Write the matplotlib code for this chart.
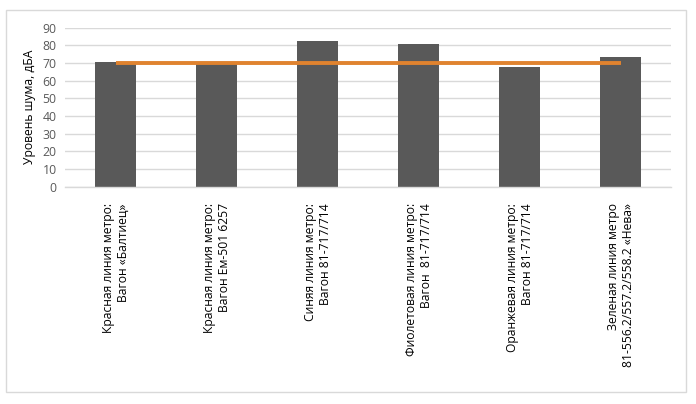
import numpy as np
import matplotlib.pyplot as plt
from matplotlib.patches import Rectangle

plt.rcParams['font.family'] = ['Open Sans', 'DejaVu Sans']

categories = [
    "Красная линия метро:\nВагон «Балтиец»",
    "Красная линия метро:\nВагон Ем-501 6257",
    "Синяя линия метро:\nВагон 81-717/714",
    "Фиолетовая линия метро:\nВагон  81-717/714",
    "Оранжевая линия метро:\nВагон 81-717/714",
    "Зеленая линия метро\n81-556.2/557.2/558.2 «Нева»",
]
noise_levels = [70.6, 69.6, 82.5, 80.8, 67.7, 73.4]
norm_level = [70, 70, 70, 70, 70, 70]
y_ticks = list(range(0, 91, 10))

fig = plt.figure(figsize=(6.96, 4.04), dpi=100)
ax = fig.add_axes([0.0934, 0.5379, 0.8707, 0.3936])

# chart border like Excel
fig.patches.append(Rectangle((6 / 696, 1 - 392 / 404), 680 / 696, 382 / 404,
                             transform=fig.transFigure, fill=False,
                             edgecolor='#D9D9D9', linewidth=1))

x = np.arange(len(categories))
ax.bar(x, noise_levels, width=0.41, color='#595959', zorder=2)
ax.plot(x, norm_level, color='#E0832F', linewidth=2.8, zorder=3,
        solid_capstyle='butt')

ax.set_xlim(-0.5, len(categories) - 0.5)
ax.set_ylim(0, 90)
ax.set_yticks(y_ticks)
ax.set_yticklabels([str(v) for v in y_ticks], fontsize=8.8, color='#595959')
ax.set_xticks(x)
ax.set_xticklabels(categories, rotation=90, fontsize=8.7, color='#000000',
                   multialignment='right', linespacing=1.2)
ax.tick_params(axis='both', length=0)
ax.tick_params(axis='x', pad=12)
ax.tick_params(axis='y', pad=6)

ax.grid(axis='y', color='#D9D9D9', linewidth=1, zorder=0)
ax.set_axisbelow(True)
for side in ['top', 'right', 'left']:
    ax.spines[side].set_visible(False)
ax.spines['bottom'].set_color('#D9D9D9')
ax.spines['bottom'].set_linewidth(1)

ax.set_ylabel("Уровень шума, дБА", fontsize=8.7, labelpad=5)

fig.savefig("out.png", dpi=100)
